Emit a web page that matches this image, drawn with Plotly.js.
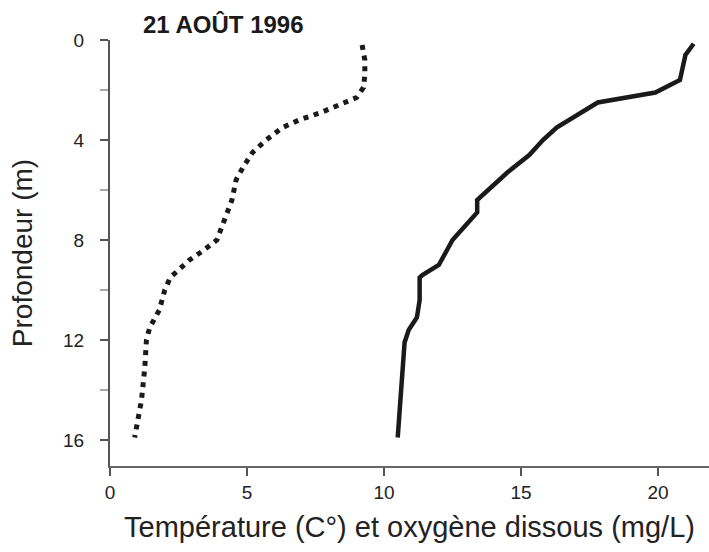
<!DOCTYPE html>
<html>
<head>
<meta charset="utf-8">
<script src="https://cdn.plot.ly/plotly-3.0.1.min.js"></script>
<style>html,body{margin:0;padding:0;background:#fff;}#chart{width:709px;height:552px;}</style>
</head>
<body>
<div id="chart"></div>
<script>
// Temperature profile (°C) vs depth (m)
const tempDepth = [0.2, 0.8, 1.4, 1.9, 2.3, 2.6, 2.9, 3.2, 3.5, 4.0, 4.5, 5.1, 5.6, 6.4, 7.5, 8.0, 8.5, 8.8, 9.5, 10.0, 10.8, 11.5, 12.0, 13.1, 14.4, 15.3, 15.9];
const tempValues = [9.2, 9.3, 9.3, 9.25, 9.0, 8.4, 7.7, 6.9, 6.3, 5.7, 5.2, 4.85, 4.6, 4.45, 4.1, 3.9, 3.3, 2.9, 2.2, 2.0, 1.8, 1.45, 1.33, 1.27, 1.15, 1.0, 0.9];

// Dissolved oxygen profile (mg/L) vs depth (m)
const oxyDepth = [0.15, 0.6, 1.6, 2.1, 2.5, 2.9, 3.5, 4.0, 4.6, 5.3, 6.4, 6.9, 8.0, 8.4, 9.0, 9.4, 9.5, 10.4, 11.1, 11.6, 12.1, 15.9];
const oxyValues = [21.3, 21.0, 20.8, 19.9, 17.8, 17.2, 16.3, 15.8, 15.3, 14.5, 13.4, 13.4, 12.5, 12.3, 12.0, 11.4, 11.3, 11.3, 11.2, 10.9, 10.75, 10.5];

const xTicks = [0, 5, 10, 15, 20];
const yTicks = [0, 4, 8, 12, 16];
const yMinorTicks = [2, 6, 10, 14];

const titleText = '21 AOÛT 1996';
const xTitle = 'Température (C°) et oxygène dissous (mg/L)';
const yTitle = 'Profondeur (m)';

const font = 'Liberation Sans, Arial, Helvetica, sans-serif';

const traces = [
  {x: tempValues, y: tempDepth, mode: 'lines', type: 'scatter', name: 'Température',
   line: {color: '#1a1a1a', width: 5, dash: '5px,5.7px'}},
  {x: oxyValues, y: oxyDepth, mode: 'lines', type: 'scatter', name: 'Oxygène dissous',
   line: {color: '#1a1a1a', width: 4.5}}
];

const layout = {
  width: 709, height: 552,
  margin: {l: 110, r: 0, t: 40, b: 86},
  paper_bgcolor: '#fff', plot_bgcolor: '#fff',
  showlegend: false,
  font: {family: font, color: '#222'},
  title: {text: '<b>' + titleText + '</b>', font: {family: font, size: 24, color: '#1a1a1a'},
          xref: 'container', yref: 'container', x: 143/709, xanchor: 'left', y: 1 - 25/552, yanchor: 'middle'},
  xaxis: {
    range: [0, 21.86], tickmode: 'array', tickvals: xTicks, ticktext: xTicks.map(String),
    ticks: 'outside', ticklen: 8, tickwidth: 2, tickcolor: '#555',
    showline: true, linecolor: '#666', linewidth: 2, showgrid: false, zeroline: false,
    tickfont: {family: font, size: 19, color: '#222'},
    title: {text: xTitle, font: {family: font, size: 29, color: '#222'}, standoff: 15}
  },
  yaxis: {
    range: [17.04, 0], tickmode: 'array', tickvals: yTicks, ticktext: yTicks.map(String),
    ticks: 'outside', ticklen: 8, tickwidth: 2, tickcolor: '#555',
    minor: {tickmode: 'array', tickvals: yMinorTicks, ticks: 'outside', ticklen: 8, tickwidth: 1.5, tickcolor: '#aaa'},
    ticklabelstandoff: 12,
    showline: true, linecolor: '#555', linewidth: 2, showgrid: false, zeroline: false,
    tickfont: {family: font, size: 19, color: '#222'},
    title: {text: yTitle + '\u00a0\u00a0\u00a0\u00a0', font: {family: font, size: 28, color: '#222'}, standoff: 22}
  }
};

Plotly.newPlot('chart', traces, layout, {displayModeBar: false, staticPlot: true});
</script>
</body>
</html>
